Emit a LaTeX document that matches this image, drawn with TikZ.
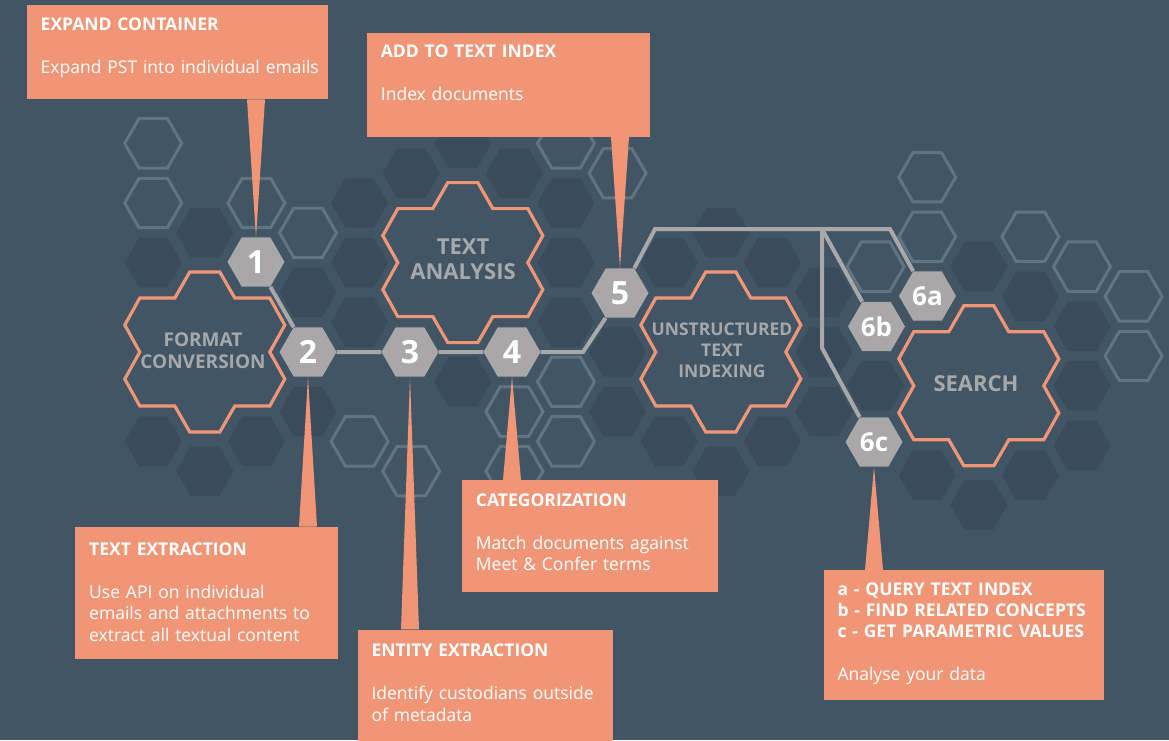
\documentclass[tikz,border=0pt]{standalone}
\usepackage{fontspec}
\setmainfont{Open Sans}
\usetikzlibrary{shapes.geometric,calc}

\definecolor{bgblue}{HTML}{415565}
\definecolor{hexdark}{HTML}{3A4C5B}
\definecolor{hexline}{HTML}{617482}
\definecolor{salmon}{HTML}{F09677}
\definecolor{stepgray}{HTML}{A9A7A8}
\definecolor{linkgray}{HTML}{A8A8A8}
\definecolor{labelgray}{HTML}{A6A8AA}

\tikzset{
  darkhex/.style={fill=hexdark},
  openhex/.style={draw=hexline, line width=3pt},
  stephex/.style={regular polygon, regular polygon sides=6, minimum size=57pt,
    inner sep=0pt, fill=stepgray, text=white, font=\bfseries\fontsize{32}{32}\selectfont},
  subhex/.style={stephex, font=\bfseries\fontsize{26}{26}\selectfont},
  flowerline/.style={draw=salmon, line width=3.2pt, fill=bgblue},
  flowerlabel/.style={text=labelgray, align=center, font=\bfseries\fontsize{19}{21.7}\selectfont},
  link/.style={draw=linkgray, line width=4pt},
  callout/.style={fill=salmon, text=white, anchor=north west, inner xsep=14pt,
    inner ysep=0pt, align=left, font=\fontsize{17.5}{21.5}\selectfont},
  pointer/.style={fill=salmon}
}

% one cell of the honeycomb, relative to the point before it
\newcommand\hexpath{+(0:28.5pt) -- +(60:28.5pt) -- +(120:28.5pt) -- +(180:28.5pt)
  -- +(240:28.5pt) -- +(300:28.5pt) -- cycle}
% seven cells merged into one outline
\newcommand\flowerpath{(-15,-80) -- (15,-80) -- (30,-54) -- (65,-54) -- (80,-27)
  -- (65,0) -- (80,27) -- (65,54) -- (30,54) -- (15,80) -- (-15,80) -- (-30,54)
  -- (-65,54) -- (-80,27) -- (-65,0) -- (-80,-27) -- (-65,-54) -- (-30,-54) -- cycle}

\begin{document}
\begin{tikzpicture}[x=1pt,y=-1pt]
    \useasboundingbox (0,0) rectangle (1169,740);
    \fill[bgblue] (0,0) rectangle (1169,740);

    % honeycomb background
    \foreach \c/\h in {-3/-3,-2/-4,1/-5,2/-6,3/-7,4/-6,5/-5,0/-2,1/-3,1/-1,5/-3,5/-1,
        7/-3,8/-4,9/-3,10/-2,10/0,10/2,6/0,6/2,7/3,8/4,9/3,0/2,-1/3,-2/4,-3/3,3/1,
        11/1,13/-3,14/-2,15/-1,15/1,15/3,12/4,13/5,14/4} {
        \pgfmathsetmacro\hx{308+51.6*(\c)}
        \pgfmathsetmacro\hy{352+29.8*(\h)+4*((\c)>10)}
        \fill[darkhex] (\hx,\hy) \hexpath;
    }
    \foreach \c/\h in {-3/-7,-3/-5,-1/-5,0/-4,1/3,2/4,5/-7,6/-6,11/-3,5/1,5/3,4/2,4/4,
        12/-6,12/-4,14/-4,15/-3,16/-2,16/0} {
        \pgfmathsetmacro\hx{308+51.6*(\c)}
        \pgfmathsetmacro\hy{352+29.8*(\h)+4*((\c)>10)}
        \draw[openhex] (\hx,\hy) \hexpath;
    }

    % stages
    \foreach \p in {(204.8,352),(462.8,262.6),(720.8,352),(978.8,385.8)}
        \draw[flowerline, shift={\p}] \flowerpath;
    \node[flowerlabel] (fmt) at (203,351) {FORMAT\\CONVERSION};
    \node[flowerlabel, font=\bfseries\fontsize{22}{25}\selectfont] (ana) at (463,259) {TEXT\\ANALYSIS};
    \node[flowerlabel, font=\bfseries\fontsize{17.5}{20.8}\selectfont] (uti) at (722,350) {UNSTRUCTURED\\TEXT\\INDEXING};
    \node[flowerlabel, font=\bfseries\fontsize{22}{25}\selectfont] (srch) at (976,384) {SEARCH};

    % steps
    \node[stephex] (n1) at (256,262) {1};
    \node[stephex] (n2) at (308,352) {2};
    \node[stephex] (n3) at (410,352) {3};
    \node[stephex] (n4) at (512,352) {4};
    \node[stephex] (n5) at (620,293) {5};
    \node[subhex] (n6a) at (927.5,296) {6a};
    \node[subhex] (n6b) at (876.5,326.5) {6b};
    \node[subhex] (n6c) at (874,442) {6c};

    \coordinate (k4) at (583,352);
    \coordinate (k5) at (655,229);
    \coordinate (k6) at (890,229);
    \coordinate (kb) at (822,229);
    \coordinate (kc) at (822,348);
    \draw[link] (n1) -- (n2);
    \draw[link] (n2) -- (n3);
    \draw[link] (n3) -- (n4);
    \draw[link] (n4) -- (k4) -- (n5.240);
    \draw[link] (n5.60) -- (k5) -- (k6) -- (n6a.120);
    \draw[link] (kb) -- (n6b.120);
    \draw[link] (kb) -- (kc) -- (n6c.120);

    % callouts
    \node[callout, inner xsep=13.5pt, text width=274pt, text height=25pt, text depth=69pt] (box1) at (27,5)
        {\textbf{EXPAND CONTAINER}\\[21.5pt]\mbox{Expand PST into individual emails}};
    \node[callout, text width=254.6pt, text height=24.6pt, text depth=79.4pt] (box5) at (366.7,32.7)
        {\textbf{ADD TO TEXT INDEX}\\[21.5pt]Index documents};
    \node[callout, text width=234.7pt, text height=28.3pt, text depth=104pt] (box2) at (75,526.7)
        {\textbf{TEXT EXTRACTION}\\[21.5pt]\mbox{Use API on individual}\\\mbox{emails and attachments to}\\\mbox{extract all textual content}};
    \node[callout, text width=227.4pt, text height=27.4pt, text depth=90pt] (box3) at (357.3,629.3)
        {\textbf{ENTITY EXTRACTION}\\[21.5pt]\mbox{Identify custodians outside}\\of metadata};
    \node[callout, text width=228pt, text height=26pt, text depth=85.7pt] (box4) at (461.7,480)
        {\textbf{CATEGORIZATION}\\[21.5pt]\mbox{Match documents against}\\\mbox{Meet \& Confer terms}};
    \node[callout, text width=252pt, text height=25.7pt, text depth=103.6pt] (box6) at (823.3,570)
        {\textbf{\mbox{a - QUERY TEXT INDEX}}\\[-0.5pt]\textbf{\mbox{b - FIND RELATED CONCEPTS}}\\[-0.5pt]\textbf{\mbox{c - GET PARAMETRIC VALUES}}\\[21.5pt]\mbox{Analyse your data}};

    \fill[pointer] ($(n1.north |- box1.south)+(-9,0)$) -- (n1.north) -- ($(n1.north |- box1.south)+(9,0)$) -- cycle;
    \fill[pointer] ($(n5.north |- box5.south)+(-9,0)$) -- (n5.north) -- ($(n5.north |- box5.south)+(9,0)$) -- cycle;
    \fill[pointer] ($(n2.south |- box2.north)+(-9,0)$) -- (n2.south) -- ($(n2.south |- box2.north)+(9,0)$) -- cycle;
    \fill[pointer] ($(n3.south |- box3.north)+(-9,0)$) -- (n3.south) -- ($(n3.south |- box3.north)+(9,0)$) -- cycle;
    \fill[pointer] ($(n4.south |- box4.north)+(-9,0)$) -- (n4.south) -- ($(n4.south |- box4.north)+(9,0)$) -- cycle;
    \fill[pointer] ($(n6c.south |- box6.north)+(-9,0)$) -- (n6c.south) -- ($(n6c.south |- box6.north)+(9,0)$) -- cycle;
\end{tikzpicture}
\end{document}
